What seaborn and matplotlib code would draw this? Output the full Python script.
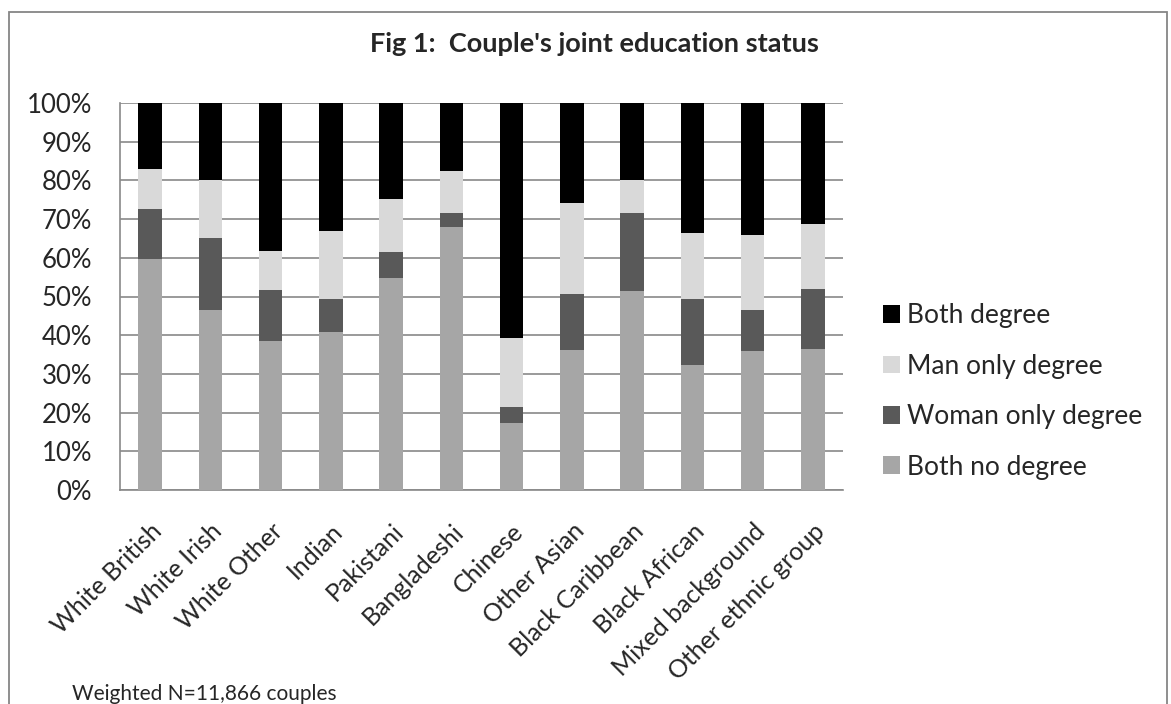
import matplotlib
matplotlib.use("Agg")
import matplotlib.pyplot as plt
import seaborn as sns
import numpy as np
from matplotlib.patches import Patch, Rectangle

categories = ["White British", "White Irish", "White Other", "Indian", "Pakistani",
              "Bangladeshi", "Chinese", "Other Asian", "Black Caribbean",
              "Black African", "Mixed background", "Other ethnic group"]

# shares in % (bottom to top of each stack)
both_no_degree = [59.8, 46.5, 38.6, 40.8, 54.7, 67.9, 17.3, 36.2, 51.4, 32.3, 36.0, 36.4]
woman_only_degree = [12.9, 18.6, 13.0, 8.6, 6.9, 3.7, 4.1, 14.4, 20.2, 17.1, 10.5, 15.6]
man_only_degree = [10.2, 15.1, 10.2, 17.4, 13.7, 10.8, 18.0, 23.6, 8.4, 17.1, 19.3, 16.7]
both_degree = [17.1, 19.8, 38.2, 33.2, 24.7, 17.6, 60.6, 25.8, 20.0, 33.5, 34.2, 31.3]

series = [
    ("Both no degree", both_no_degree, "#a6a6a6"),
    ("Woman only degree", woman_only_degree, "#595959"),
    ("Man only degree", man_only_degree, "#d9d9d9"),
    ("Both degree", both_degree, "#000000"),
]

sns.set_theme(style="white")
plt.rcParams["font.family"] = ["Lato", "DejaVu Sans"]

W, H = 1171, 704
fig = plt.figure(figsize=(W / 100, H / 100), dpi=100)
ax = fig.add_axes([120 / W, (H - 490) / H, 723 / W, 387 / H])

bottom = np.zeros(len(categories))
for name, vals, col in series:
    sns.barplot(x=categories, y=vals, bottom=bottom, color=col, width=0.39,
                saturation=1, ax=ax, zorder=3, edgecolor="none")
    bottom += np.array(vals)

ax.set_ylim(0, 100)
ax.set_xlim(-0.5, len(categories) - 0.5)
ax.set_yticks(np.arange(0, 101, 10))
ax.set_yticklabels([f"{t}%" for t in range(0, 101, 10)], fontsize=18.5)
ax.yaxis.grid(True, color="#898989", linewidth=1.2, zorder=0)
ax.set_axisbelow(True)
for s in ["top", "right"]:
    ax.spines[s].set_visible(False)
for s in ["left", "bottom"]:
    ax.spines[s].set_color("#898989")
    ax.spines[s].set_linewidth(1.2)
ax.tick_params(axis="y", length=0, pad=20)
ax.tick_params(axis="x", length=0, pad=21)
ax.set_xticks(range(len(categories)))
ax.set_xticklabels(categories, rotation=45, ha="right", rotation_mode="anchor", fontsize=18)
ax.set_xlabel("")
ax.set_ylabel("")

handles = [Patch(facecolor=c, edgecolor="none", label=n) for n, v, c in series[::-1]]
fig.legend(handles=handles, loc="center left", bbox_to_anchor=(859 / W, 1 - 391.5 / H),
           frameon=False, fontsize=19, handlelength=0.65, handleheight=0.65,
           handletextpad=0.27, labelspacing=0.96)

fig.text(594 / W, 1 - 52 / H, "Fig 1:  Couple's joint education status",
         ha="center", va="baseline", fontsize=19.5, fontweight="bold")
fig.text(72 / W, 1 - 684 / H, "Weighted N=11,866 couples", ha="left", va="top",
         fontsize=15)

fig.patches.append(Rectangle((9 / W, -0.2), 1158 / W, 1.2 - 12 / H,
                             transform=fig.transFigure, fill=False,
                             edgecolor="#868686", linewidth=1.3, clip_on=False))

fig.savefig("out.png", dpi=100, facecolor="white")
